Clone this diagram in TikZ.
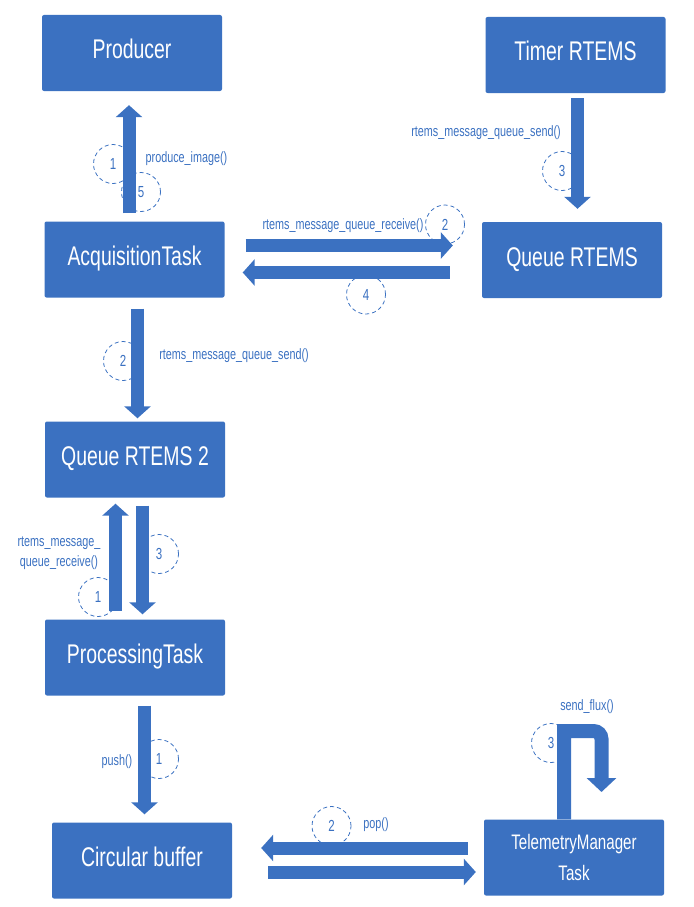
\documentclass[tikz,border=0pt]{standalone}
\usepackage{fontspec}
\setmainfont{Liberation Sans}[FakeStretch=0.72]
\usetikzlibrary{arrows.meta,calc}
\definecolor{bcol}{RGB}{59,113,193}
\tikzset{
  boxbase/.style={fill=bcol, rounded corners=2pt, minimum width=180pt, minimum height=76pt, text=white, inner sep=0pt},
  box/.style={boxbase, font=\fontsize{27}{30}\selectfont, text height=20pt, text depth=8pt},
  lbl/.style={text=bcol, font=\fontsize{15}{18}\selectfont, inner sep=0pt},
  num/.style={circle, draw=bcol, dash pattern=on 4pt off 3pt, line width=0.8pt, minimum size=39pt, inner sep=0pt, text=bcol, font=\fontsize{16}{18}\selectfont},
  barrow/.style={draw=bcol, line width=13pt, -{Triangle[width=26pt,length=12pt]}},
}
\begin{document}
\begin{tikzpicture}[x=1pt,y=-1pt]
\useasboundingbox (0,0) rectangle (693,907);
% boxes
\node[box] (prod) at (132,53) {Producer};
\node[box] (timer) at (575.5,55) {Timer RTEMS};
\node[box] (acq) at (134.5,259.5) {AcquisitionTask};
\node[box] (queue) at (572,260) {Queue RTEMS};
\node[box] (q2) at (135,459.5) {Queue RTEMS 2};
\node[box] (proc) at (135,657.5) {ProcessingTask};
\node[box] (cb) at (142,860.5) {Circular buffer};
\node[boxbase, align=center, font=\fontsize{21}{31}\selectfont] (tm) at (574,857.5) {TelemetryManager\\Task};
% numbered dashed circles
\node[num] (n1a) at (113,164) {1};
\node[num] (n5a) at (141,192) {5};
\node[num] (n2a) at (445,224.5) {2};
\node[num] (n4a) at (366,294.5) {4};
\node[num] (n3a) at (562,171) {3};
\node[num] (n2b) at (123,361) {2};
\node[num] (n3b) at (159,554) {3};
\node[num] (n1b) at (98,597) {1};
\node[num] (n1c) at (159,759) {1};
\node[num] (n2c) at (331.5,826) {2};
\node[num] (n3c) at (551,743) {3};
% labels
\node[lbl] (l1) at (186.5,159) {produce\_image()};
\node[lbl] (l2) at (343,226) {rtems\_message\_queue\_receive()};
\node[lbl] (l3) at (486,133) {rtems\_message\_queue\_send()};
\node[lbl] (l4) at (234,356) {rtems\_message\_queue\_send()};
\node[lbl, align=center, font=\fontsize{15}{20}\selectfont] (l5) at (59,553) {rtems\_message\_\\queue\_receive()};
\node[lbl] (l6) at (117,762) {push()};
\node[lbl] (l7) at (587,707) {send\_flux()};
\node[lbl] (l8) at (376,825) {pop()};
% block arrows
\draw[barrow, shorten <=8pt, shorten >=14pt] (acq.north -| 129,0) -- (prod.south -| 129,0);
\draw[barrow, shorten <=21pt, shorten >=29pt] (acq.east |- 0,245.5) -- (queue.west |- 0,245.5);
\draw[barrow, shorten <=32pt, shorten >=18pt] (queue.west |- 0,272.5) -- (acq.east |- 0,272.5);
\draw[barrow, shorten <=5pt, shorten >=13pt] (timer.south -| 577.5,0) -- (queue.north -| 577.5,0);
\draw[barrow, shorten <=11pt, shorten >=3pt] (acq.south -| 137.5,0) -- (q2.north -| 137.5,0);
\draw[barrow, shorten <=8pt, shorten >=6pt] (proc.north -| 115.5,0) -- (q2.south -| 115.5,0);
\draw[barrow, shorten <=8pt, shorten >=5pt] (q2.south -| 142.5,0) -- (proc.north -| 142.5,0);
\draw[barrow, shorten <=10pt, shorten >=8pt] (proc.south -| 144.5,0) -- (cb.north -| 144.5,0);
\draw[barrow, shorten <=16pt, shorten >=29pt] (tm.west |- 0,848) -- (cb.east |- 0,848);
\draw[barrow, shorten <=36pt, shorten >=8pt] (cb.east |- 0,872) -- (tm.west |- 0,872);
\draw[barrow, line width=14pt, -{Triangle[width=29pt,length=14pt]}]
  (tm.north -| 564,0) -- (564,731) [rounded corners=8pt] -- (601.5,731) [sharp corners] -- (601.5,792);
\end{tikzpicture}
\end{document}
